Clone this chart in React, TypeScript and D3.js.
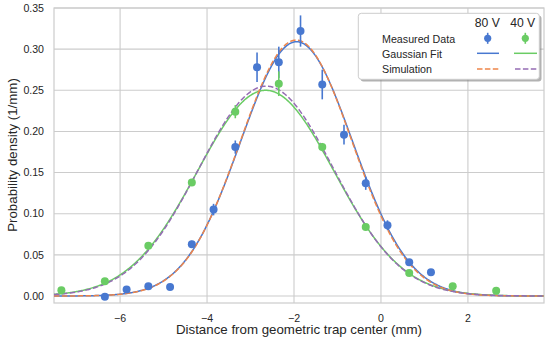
import * as d3 from "d3";

// Measured data, 80 V
const x80 = [-6.35, -5.85, -5.35, -4.85, -4.35, -3.85, -3.35, -2.85, -2.35, -1.85, -1.35, -0.85, -0.35, 0.15, 0.65, 1.15];
const y80 = [-0.001, 0.008, 0.012, 0.011, 0.063, 0.105, 0.181, 0.278, 0.284, 0.322, 0.257, 0.196, 0.137, 0.086, 0.041, 0.029];
const err80 = [0.002, 0.002, 0.002, 0.002, 0.004, 0.007, 0.008, 0.018, 0.019, 0.019, 0.018, 0.012, 0.008, 0.006, 0.004, 0.003];

// Measured data, 40 V
const x40 = [-7.35, -6.35, -5.35, -4.35, -3.35, -2.35, -1.35, -0.35, 0.65, 1.65, 2.65];
const y40 = [0.007, 0.018, 0.061, 0.138, 0.224, 0.258, 0.181, 0.084, 0.028, 0.012, 0.0065];
const err40 = [0.002, 0.003, 0.003, 0.004, 0.008, 0.015, 0.005, 0.004, 0.003, 0.003, 0.002];

// gaussian params [amplitude, mean, sigma]
const fit80 = [0.309, -1.94, 1.29];
const fit40 = [0.25, -2.65, 1.57];
const sim80 = [0.311, -1.95, 1.28];
const sim40 = [0.255, -2.64, 1.55];

const xTicks = [-6, -4, -2, 0, 2];
const yTicks = [0, 0.05, 0.1, 0.15, 0.2, 0.25, 0.3, 0.35];

const W = 550;
const H = 345;
const font = "'Liberation Sans', Arial, Helvetica, sans-serif";
const grid = "#cccccc";
const c = { blue: "#4878d0", orange: "#ee854a", green: "#6acc64", purple: "#956cb4" };

const x = d3.scaleLinear().domain([-7.52, 3.75]).range([54, 544]);
const y = d3.scaleLinear().domain([-0.0085, 0.35]).range([303, 8]);

const gauss = (p: number[]) => (t: number) => p[0] * Math.exp(-((t - p[1]) ** 2) / (2 * p[2] * p[2]));
const xs = d3.range(-7.52, 3.76, 0.02);

function curvePath(p: number[]) {
  const g = gauss(p);
  return d3
    .line<number>()
    .x((t) => x(t))
    .y((t) => y(g(t)))(xs) as string;
}

function Points({ xv, yv, ev, color }: { xv: number[]; yv: number[]; ev: number[]; color: string }) {
  return (
    <g>
      {xv.map((xx, i) => (
        <g key={i}>
          <line x1={x(xx)} x2={x(xx)} y1={y(yv[i] - ev[i])} y2={y(yv[i] + ev[i])} stroke={color} strokeWidth={1.6} />
          <circle cx={x(xx)} cy={y(yv[i])} r={4} fill={color} />
        </g>
      ))}
    </g>
  );
}

export default function App() {
  return (
    <svg
      width={W}
      height={H}
      style={{ position: "absolute", left: 0, top: 0, background: "#fff" }}
      fontFamily={font}
    >
      <defs>
        <clipPath id="plot">
          <rect x={54} y={8} width={490} height={295} />
        </clipPath>
      </defs>
      {/* grid */}
      {yTicks.map((t) => (
        <line key={"gy" + t} x1={54} x2={544} y1={y(t)} y2={y(t)} stroke={grid} strokeWidth={1.1} />
      ))}
      {xTicks.map((t) => (
        <line key={"gx" + t} x1={x(t)} x2={x(t)} y1={8} y2={303} stroke={grid} strokeWidth={1.1} />
      ))}
      <rect x={54} y={8} width={490} height={295} fill="none" stroke={grid} strokeWidth={1.2} />

      {/* tick labels */}
      {yTicks.map((t) => (
        <text key={"ly" + t} x={44} y={y(t)} dy="0.35em" textAnchor="end" fontSize={10.6} fill="#262626">
          {t.toFixed(2)}
        </text>
      ))}
      {xTicks.map((t) => (
        <text key={"lx" + t} x={x(t)} y={321.5} textAnchor="middle" fontSize={10.6} fill="#262626">
          {t < 0 ? "\u2212" + Math.abs(t) : String(t)}
        </text>
      ))}
      <text x={299} y={334} textAnchor="middle" fontSize={13.3} fill="#262626">
        Distance from geometric trap center (mm)
      </text>
      <text transform="translate(16.5,155) rotate(-90)" textAnchor="middle" fontSize={13.3} fill="#262626">
        Probability density (1/mm)
      </text>

      {/* curves */}
      <g clipPath="url(#plot)" fill="none" strokeWidth={1.5}>
        <path d={curvePath(fit80)} stroke={c.blue} />
        <path d={curvePath(fit40)} stroke={c.green} />
        <path d={curvePath(sim80)} stroke={c.orange} strokeDasharray="5.5,2.4" />
        <path d={curvePath(sim40)} stroke={c.purple} strokeDasharray="5.5,2.4" />
      </g>

      <Points xv={x80} yv={y80} ev={err80} color={c.blue} />
      <Points xv={x40} yv={y40} ev={err40} color={c.green} />

      {/* legend */}
      <g>
        <rect x={360.5} y={15.5} width={181} height={66} rx={3} fill="#7f7f7f" opacity={0.6} />
        <rect x={358.3} y={13.3} width={181} height={66} rx={3} fill="#fff" stroke={grid} strokeWidth={1} />
        <text x={487.3} y={27.3} textAnchor="middle" fontSize={12.2} fill="#262626">80 V</text>
        <text x={522.7} y={27.3} textAnchor="middle" fontSize={12.2} fill="#262626">40 V</text>
        <text x={382} y={42.5} fontSize={10.7} fill="#262626">Measured Data</text>
        <text x={382} y={57.7} fontSize={10.7} fill="#262626">Gaussian Fit</text>
        <text x={382} y={73} fontSize={10.7} fill="#262626">Simulation</text>
        <line x1={487.7} x2={487.7} y1={32.8} y2={43.8} stroke={c.blue} strokeWidth={1.6} />
        <circle cx={487.7} cy={38.3} r={3.6} fill={c.blue} />
        <line x1={525.3} x2={525.3} y1={32.8} y2={43.8} stroke={c.green} strokeWidth={1.6} />
        <circle cx={525.3} cy={38.3} r={3.6} fill={c.green} />
        <line x1={477} x2={499} y1={53.3} y2={53.3} stroke={c.blue} strokeWidth={1.5} />
        <line x1={514} x2={537} y1={53.3} y2={53.3} stroke={c.green} strokeWidth={1.5} />
        <line x1={477} x2={499} y1={69} y2={69} stroke={c.orange} strokeWidth={1.5} strokeDasharray="5.5,2.4" />
        <line x1={515} x2={537} y1={69} y2={69} stroke={c.purple} strokeWidth={1.5} strokeDasharray="5.5,2.4" />
      </g>
    </svg>
  );
}
